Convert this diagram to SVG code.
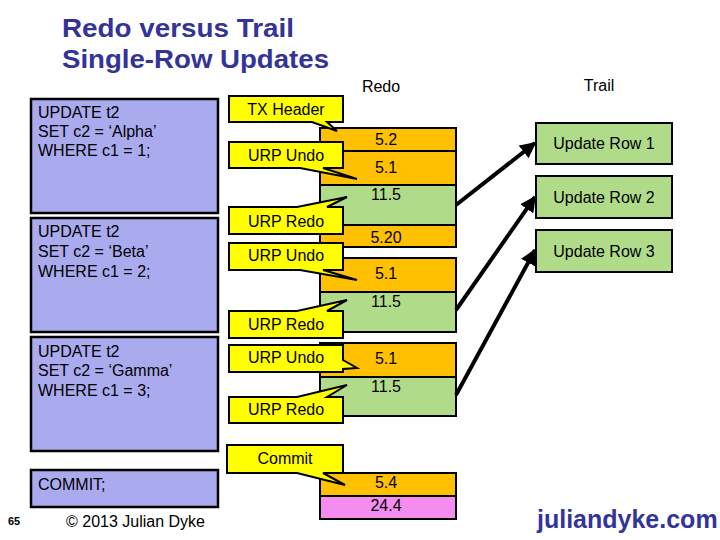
<svg xmlns="http://www.w3.org/2000/svg" width="720" height="540" viewBox="0 0 720 540">
<defs>
<style>
.t{font-family:"Liberation Sans",Arial,sans-serif;fill:#000}
.sql{font-size:16px}
.call{font-size:16px;text-anchor:middle}
.num{font-size:16px;text-anchor:middle}
.blue{fill:#aaaaee;stroke:#000;stroke-width:2.5}
.yel{fill:#ffff00;stroke:#000;stroke-width:2}
.or{fill:#ffc000;stroke:#000;stroke-width:2}
.gr{fill:#b0dc8a;stroke:#000;stroke-width:2}
.pk{fill:#f58cf0;stroke:#000;stroke-width:2}
.conn{stroke:#000;stroke-width:4;fill:none;marker-end:url(#ah)}
</style>
<marker id="ah" viewBox="0 0 10 10" refX="9" refY="5" markerWidth="4" markerHeight="4" orient="auto" markerUnits="strokeWidth">
<path d="M0,0 L10,5 L0,10 Z" fill="#000"/>
</marker>
</defs>
<rect width="720" height="540" fill="#fff"/>
<g id="title" class="t" font-weight="bold" font-size="26" style="fill:#333399">
<text x="62" y="37" textLength="232" lengthAdjust="spacingAndGlyphs" style="fill:#333399">Redo versus Trail</text>
<text x="62" y="68" textLength="267" lengthAdjust="spacingAndGlyphs" style="fill:#333399">Single-Row Updates</text>
</g>
<text id="redo-label" class="t" x="381" y="92" font-size="16" text-anchor="middle">Redo</text>
<text id="trail-label" class="t" x="599" y="91" font-size="16" text-anchor="middle">Trail</text>

<g id="sql1"><rect class="blue" x="31" y="99" width="187" height="114"/>
<text class="t sql" x="38" y="118">UPDATE t2</text><text class="t sql" x="38" y="137">SET c2 = ‘Alpha’</text><text class="t sql" x="38" y="156">WHERE c1 = 1;</text></g>
<g id="sql2"><rect class="blue" x="31" y="218" width="187" height="114"/>
<text class="t sql" x="38" y="237">UPDATE t2</text><text class="t sql" x="38" y="257">SET c2 = ‘Beta’</text><text class="t sql" x="38" y="277">WHERE c1 = 2;</text></g>
<g id="sql3"><rect class="blue" x="31" y="337" width="187" height="114"/>
<text class="t sql" x="38" y="357">UPDATE t2</text><text class="t sql" x="38" y="376">SET c2 = ‘Gamma’</text><text class="t sql" x="38" y="396">WHERE c1 = 3;</text></g>
<g id="sql4"><rect class="blue" x="31" y="470" width="187" height="37"/>
<text class="t sql" x="38" y="490">COMMIT;</text></g>

<g id="redo1">
<rect class="or" x="320" y="128" width="136" height="23"/><text class="t num" x="386" y="145">5.2</text>
<rect class="or" x="320" y="151" width="136" height="34"/><text class="t num" x="386" y="173">5.1</text>
<rect class="gr" x="320" y="185" width="136" height="40"/><text class="t num" x="386" y="200">11.5</text>
<rect class="or" x="320" y="225" width="136" height="22"/><text class="t num" x="386" y="243">5.20</text>
</g>
<g id="redo2">
<rect class="or" x="320" y="258" width="136" height="34"/><text class="t num" x="386" y="279">5.1</text>
<rect class="gr" x="320" y="292" width="136" height="40"/><text class="t num" x="386" y="307">11.5</text>
</g>
<g id="redo3">
<rect class="or" x="320" y="343" width="136" height="34"/><text class="t num" x="386" y="364">5.1</text>
<rect class="gr" x="320" y="377" width="136" height="39"/><text class="t num" x="386" y="392">11.5</text>
</g>
<g id="redo4">
<rect class="or" x="320" y="473" width="136" height="23"/><text class="t num" x="386" y="488">5.4</text>
<rect class="pk" x="320" y="496" width="136" height="23"/><text class="t num" x="386" y="511">24.4</text>
</g>

<g id="c-txheader"><path class="yel" d="M229,96 H343 V122 H327 L337,131 L312,122 H229 Z"/><text class="t call" x="286" y="115">TX Header</text></g>
<g id="c-undo1"><path class="yel" d="M229,142 H343 V168 H323 L357,179 L300,168 H229 Z"/><text class="t call" x="286" y="161">URP Undo</text></g>
<g id="c-redo1"><path class="yel" d="M229,207 H297 L347,197 L327,207 H343 V234 H229 Z"/><text class="t call" x="286" y="227">URP Redo</text></g>
<g id="c-undo2"><path class="yel" d="M229,243 H343 V270 H323 L357,280 L300,270 H229 Z"/><text class="t call" x="286" y="261">URP Undo</text></g>
<g id="c-redo2"><path class="yel" d="M229,311 H297 L347,300 L327,311 H343 V338 H229 Z"/><text class="t call" x="286" y="330">URP Redo</text></g>
<g id="c-undo3"><path class="yel" d="M229,345 H343 V360 L357,368 L343,369 V372 H229 Z"/><text class="t call" x="286" y="363">URP Undo</text></g>
<g id="c-redo3"><path class="yel" d="M229,397 H297 L347,385 L327,397 H343 V423 H229 Z"/><text class="t call" x="286" y="415">URP Redo</text></g>
<g id="c-commit"><path class="yel" d="M227,445 H343 V473 H323 L345,485 L297,473 H227 Z"/><text class="t call" x="285" y="464">Commit</text></g>

<g id="trail1"><rect class="gr" x="536" y="123" width="136" height="41"/><text class="t num" x="604" y="149">Update Row 1</text></g>
<g id="trail2"><rect class="gr" x="536" y="176" width="136" height="42"/><text class="t num" x="604" y="203">Update Row 2</text></g>
<g id="trail3"><rect class="gr" x="536" y="230" width="136" height="42"/><text class="t num" x="604" y="257">Update Row 3</text></g>

<g id="connectors">
<line class="conn" x1="456" y1="205" x2="535" y2="143"/>
<line class="conn" x1="456" y1="310" x2="535" y2="197"/>
<line class="conn" x1="456" y1="395" x2="535" y2="250"/>
</g>

<g id="footer">
<text class="t" x="8" y="525" font-size="11" font-weight="bold">65</text>
<text class="t" x="66" y="527" font-size="16">© 2013 Julian Dyke</text>
<text x="537" y="528" font-family="Liberation Sans,Arial,sans-serif" font-size="25" font-weight="bold" fill="#3333a0">juliandyke.com</text>
</g>
</svg>
